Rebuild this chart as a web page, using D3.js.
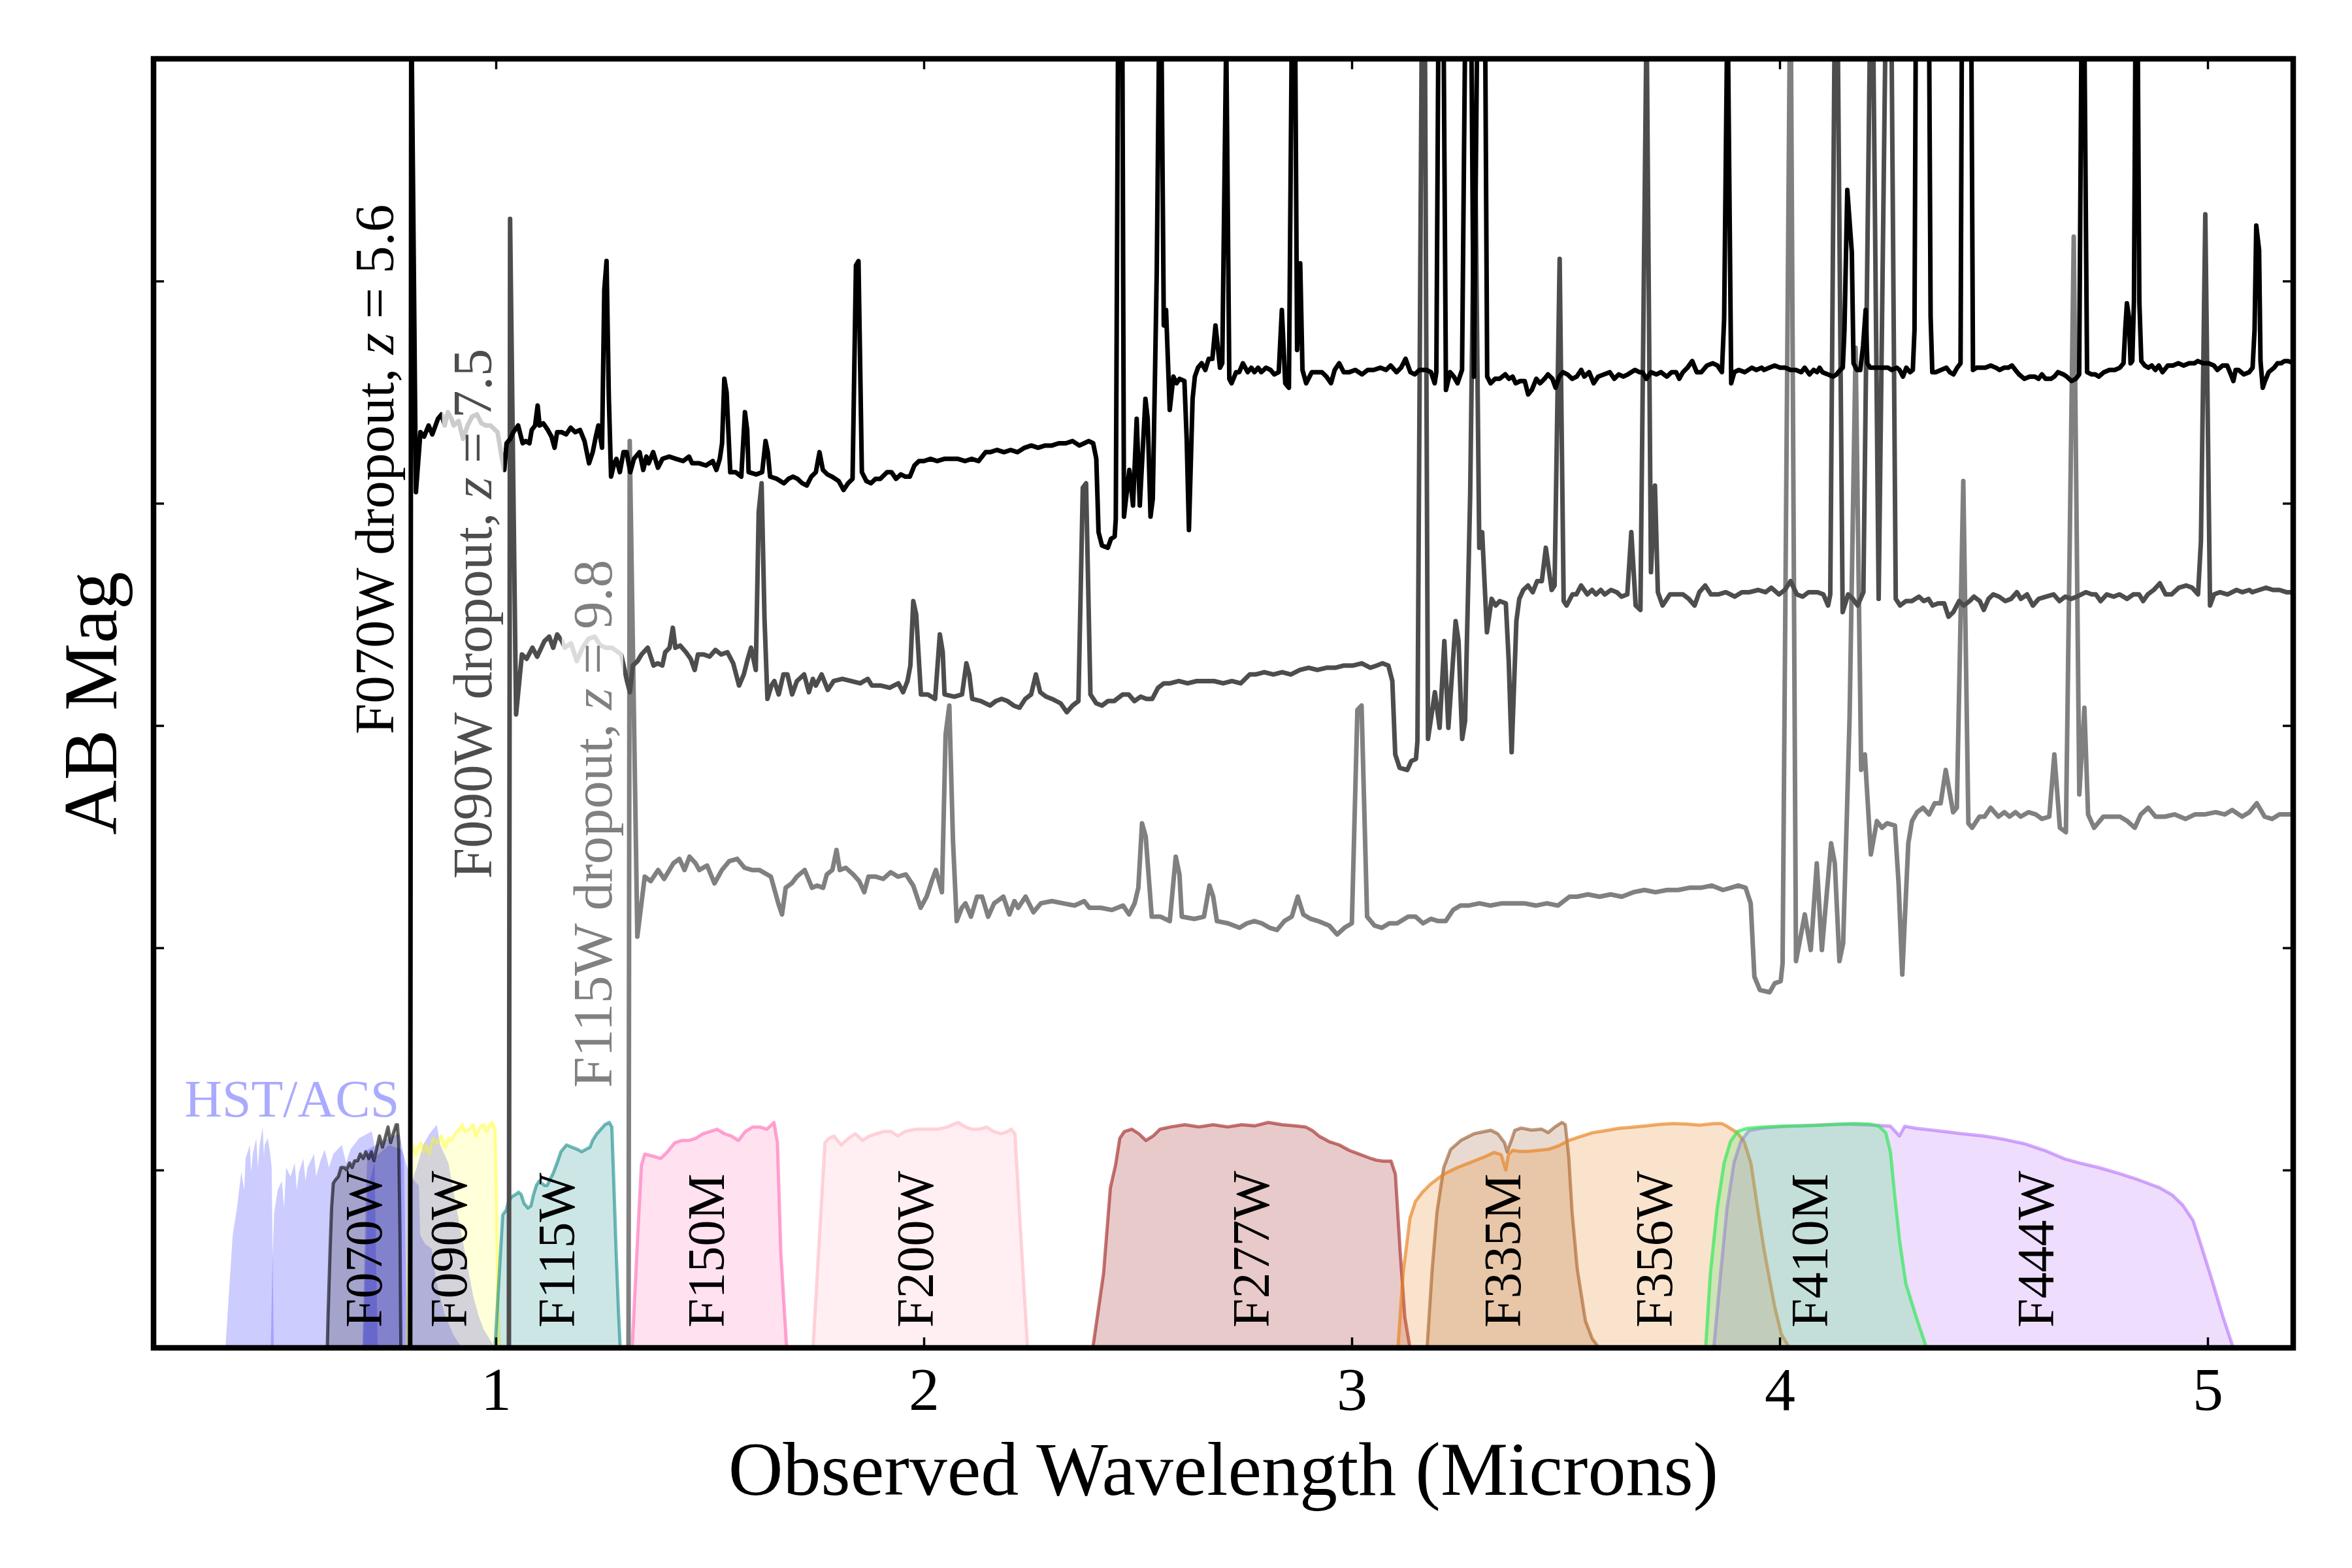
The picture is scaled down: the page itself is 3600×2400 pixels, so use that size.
<!DOCTYPE html>
<html>
<head>
<meta charset="utf-8">
<script src="https://cdn.jsdelivr.net/npm/d3@7/dist/d3.min.js"></script>
<style>
  body { margin: 0; background: #ffffff; }
  text { font-family: "Liberation Serif", "DejaVu Serif", serif; }
</style>
</head>
<body>
<svg id="drawing_region"></svg>
<script>
// axis ranges and ticks
const waveRange = [0.2, 5.2];          // microns
const magRange = [22, 27.8];           // AB mag, bright at top
const xTicks = [1, 2, 3, 4, 5];
const yTicks = [23, 24, 25, 26, 27];

// the three dropout galaxies
const redshifts = [5.6, 7.5, 9.8];
const magOffsets = [0.0, 1.0, 2.0];
const dropoutFilters = ['F070W', 'F090W', 'F115W'];
const spectrumColors = ['#000000', '#4d4d4d', '#808080'];
const dropoutLabelWave = [0.76, 0.99, 1.27];
const dropoutLabelMag = [25.04, 25.69, 26.63];

const template = [
  [900, 32.0], [1209, 32.0], [1215.5, 21.72], [1232, 23.95], [1248, 23.68], [1261, 23.70],
  [1277, 23.65], [1290, 23.69], [1310, 23.62], [1323, 23.60], [1334, 23.65], [1345, 23.59],
  [1358, 23.62], [1366, 23.65], [1383, 23.63], [1399, 23.71], [1415, 23.65], [1431, 23.61],
  [1448, 23.60], [1464, 23.64], [1480, 23.65], [1496, 23.65], [1521, 23.68], [1537, 23.80],
  [1545, 23.85], [1553, 23.73], [1566, 23.71], [1577, 23.68], [1594, 23.65], [1610, 23.73],
  [1621, 23.72], [1634, 23.73], [1642, 23.67], [1654, 23.65], [1663, 23.56], [1670, 23.65],
  [1683, 23.64], [1699, 23.67], [1712, 23.70], [1723, 23.75], [1732, 23.68], [1748, 23.68],
  [1764, 23.69], [1780, 23.66], [1796, 23.68], [1813, 23.67], [1829, 23.72], [1845, 23.82],
  [1858, 23.77], [1869, 23.70], [1878, 23.65], [1891, 23.75], [1899, 23.04], [1907, 22.91],
  [1915, 23.52], [1923, 23.88], [1934, 23.82], [1942, 23.80], [1954, 23.86], [1967, 23.77],
  [1978, 23.77], [1991, 23.86], [2004, 23.80], [2024, 23.77], [2037, 23.85], [2048, 23.79],
  [2056, 23.82], [2072, 23.77], [2089, 23.84], [2105, 23.80], [2129, 23.79], [2153, 23.80],
  [2178, 23.81], [2199, 23.79], [2210, 23.82], [2235, 23.82], [2259, 23.83], [2283, 23.81],
  [2296, 23.85], [2308, 23.80], [2316, 23.73], [2324, 23.44], [2332, 23.50], [2345, 23.86],
  [2364, 23.86], [2384, 23.88], [2397, 23.59], [2405, 23.67], [2410, 23.86], [2437, 23.87],
  [2458, 23.86], [2470, 23.72], [2478, 23.77], [2486, 23.88], [2510, 23.89], [2535, 23.91],
  [2551, 23.89], [2567, 23.88], [2583, 23.89], [2600, 23.91], [2616, 23.92], [2632, 23.88],
  [2648, 23.86], [2661, 23.77], [2673, 23.85], [2689, 23.87], [2705, 23.88], [2729, 23.90],
  [2746, 23.94], [2762, 23.91], [2778, 23.89], [2790, 22.93], [2799, 22.91], [2811, 23.86],
  [2827, 23.90], [2843, 23.91], [2859, 23.89], [2876, 23.89], [2900, 23.86], [2916, 23.86],
  [2932, 23.89], [2949, 23.87], [2965, 23.88], [2981, 23.88], [2997, 23.83], [3013, 23.81],
  [3030, 23.81], [3054, 23.80], [3078, 23.81], [3103, 23.80], [3127, 23.80], [3151, 23.80],
  [3176, 23.81], [3200, 23.80], [3224, 23.81], [3249, 23.77], [3265, 23.77], [3289, 23.76],
  [3314, 23.77], [3338, 23.76], [3362, 23.77], [3387, 23.75], [3411, 23.74], [3435, 23.75],
  [3460, 23.74], [3484, 23.74], [3508, 23.73], [3533, 23.73], [3557, 23.72], [3581, 23.74],
  [3598, 23.73], [3614, 23.72], [3630, 23.73], [3641, 23.80], [3649, 24.13], [3661, 24.19],
  [3682, 24.20], [3693, 24.16], [3706, 24.15], [3710, 24.07], [3727, 19.5], [3739, 24.06],
  [3758, 23.85], [3771, 24.01], [3784, 23.62], [3795, 24.01], [3815, 23.53], [3823, 23.62],
  [3833, 24.06], [3841, 23.98], [3849, 23.41], [3855, 22.96], [3868, 21.3], [3880, 23.20],
  [3888, 23.13], [3901, 23.58], [3914, 23.43], [3925, 23.46], [3936, 23.44], [3953, 23.45],
  [3961, 23.71], [3969, 24.12], [3982, 23.53], [3990, 23.43], [4001, 23.39], [4014, 23.37],
  [4027, 23.40], [4039, 23.35], [4052, 23.35], [4063, 23.20], [4079, 23.39], [4087, 23.37],
  [4101, 21.9], [4112, 23.44], [4120, 23.46], [4136, 23.41], [4147, 23.41], [4160, 23.37],
  [4177, 23.41], [4190, 23.39], [4201, 23.41], [4214, 23.39], [4225, 23.41], [4242, 23.39],
  [4258, 23.40], [4271, 23.42], [4287, 23.41], [4298, 23.13], [4310, 23.46], [4323, 23.48],
  [4340, 20.8], [4352, 23.31], [4363, 22.92], [4371, 23.40], [4384, 23.46], [4404, 23.41],
  [4420, 23.41], [4440, 23.41], [4456, 23.43], [4472, 23.46], [4485, 23.40], [4501, 23.37],
  [4517, 23.41], [4537, 23.41], [4558, 23.40], [4582, 23.42], [4602, 23.40], [4623, 23.40],
  [4647, 23.39], [4667, 23.40], [4683, 23.38], [4704, 23.41], [4720, 23.39], [4736, 23.35],
  [4753, 23.41], [4769, 23.42], [4785, 23.40], [4810, 23.40], [4826, 23.41], [4839, 23.46],
  [4845, 23.41], [4861, 20.0], [4879, 23.49], [4894, 23.41], [4907, 23.43], [4920, 23.46],
  [4936, 23.40], [4959, 20.2], [4978, 23.43], [5007, 19.5], [5025, 23.43], [5037, 23.46],
  [5053, 23.44], [5069, 23.44], [5089, 23.42], [5102, 23.44], [5115, 23.43], [5126, 23.46],
  [5142, 23.45], [5158, 23.45], [5170, 23.51], [5183, 23.49], [5199, 23.44], [5212, 23.46],
  [5228, 23.44], [5240, 23.42], [5256, 23.44], [5267, 23.48], [5280, 23.43], [5293, 23.41],
  [5309, 23.42], [5326, 23.44], [5342, 23.43], [5358, 23.40], [5369, 23.43], [5386, 23.41],
  [5402, 23.46], [5418, 23.43], [5439, 23.42], [5459, 23.41], [5475, 23.44], [5491, 23.42],
  [5507, 23.43], [5523, 23.42], [5548, 23.40], [5564, 23.41], [5575, 23.41], [5588, 23.44],
  [5605, 23.41], [5624, 23.42], [5640, 23.41], [5661, 23.43], [5678, 23.41], [5694, 23.41],
  [5705, 23.44], [5718, 23.41], [5734, 23.39], [5751, 23.36], [5767, 23.41], [5783, 23.41],
  [5803, 23.38], [5824, 23.37], [5840, 23.38], [5856, 23.41], [5864, 23.17], [5876, 21.7],
  [5889, 23.46], [5900, 23.41], [5916, 23.40], [5937, 23.41], [5962, 23.39], [5978, 23.40],
  [5997, 23.39], [6005, 23.40], [6024, 23.39], [6043, 23.38], [6062, 23.39], [6080, 23.39],
  [6099, 23.40], [6118, 23.40], [6137, 23.41], [6149, 23.39], [6166, 23.42], [6181, 23.40],
  [6193, 23.41], [6202, 23.39], [6212, 23.41], [6231, 23.42], [6250, 23.43], [6262, 23.42],
  [6275, 23.40], [6284, 23.39], [6290, 23.22], [6300, 22.59], [6316, 22.87], [6322, 23.37],
  [6334, 23.40], [6346, 23.40], [6356, 23.29], [6365, 23.13], [6371, 23.37], [6381, 23.39],
  [6406, 23.39], [6425, 23.39], [6444, 23.39], [6457, 23.40], [6475, 23.39], [6485, 23.40],
  [6497, 23.43], [6509, 23.39], [6522, 23.41], [6532, 23.40], [6538, 23.22], [6547, 20.5],
  [6556, 21.0], [6563, 19.3], [6572, 21.0], [6584, 20.5], [6595, 23.16], [6601, 23.41],
  [6613, 23.41], [6632, 23.40], [6651, 23.39], [6663, 23.41], [6676, 23.42], [6689, 23.39],
  [6701, 23.37], [6709, 20.8], [6722, 21.6], [6735, 20.8], [6745, 23.40], [6758, 23.39],
  [6776, 23.39], [6789, 23.39], [6808, 23.38], [6826, 23.39], [6839, 23.40], [6855, 23.39],
  [6870, 23.39], [6883, 23.38], [6895, 23.40], [6908, 23.42], [6927, 23.44], [6946, 23.43],
  [6964, 23.43], [6977, 23.44], [6989, 23.42], [7002, 23.44], [7021, 23.44], [7033, 23.43],
  [7046, 23.41], [7065, 23.42], [7077, 23.43], [7094, 23.45], [7109, 23.44], [7121, 23.42],
  [7134, 21.0], [7149, 23.41], [7165, 23.42], [7178, 23.42], [7190, 23.43], [7209, 23.41],
  [7228, 23.40], [7247, 23.40], [7265, 23.39], [7278, 23.37], [7284, 23.22], [7290, 23.10],
  [7297, 23.16], [7303, 23.37], [7309, 23.36], [7315, 23.09], [7324, 21.0], [7334, 23.09],
  [7341, 23.36], [7353, 23.38], [7366, 23.39], [7378, 23.38], [7391, 23.40], [7403, 23.38],
  [7416, 23.41], [7435, 23.38], [7453, 23.38], [7472, 23.37], [7491, 23.38], [7510, 23.37],
  [7529, 23.37], [7541, 23.36], [7560, 23.37], [7579, 23.37], [7598, 23.38], [7610, 23.40],
  [7629, 23.38], [7645, 23.38], [7658, 23.42], [7667, 23.45], [7675, 23.40], [7685, 23.40],
  [7704, 23.42], [7723, 23.41], [7735, 23.39], [7742, 23.22], [7748, 22.75], [7758, 22.86],
  [7763, 23.36], [7771, 23.48], [7779, 23.45], [7792, 23.41], [7811, 23.39], [7823, 23.37],
  [7836, 23.37], [7848, 23.36], [7861, 23.36], [7880, 23.37], [7900, 23.37]
];

// HST/ACS throughputs [micron, normalised T]
const acsA = [[0.368,0],[0.385,0.5],[0.395,0.62],[0.405,0.78],[0.412,0.7],[0.415,0.84],[0.425,0.9],[0.428,0.78],
  [0.432,0.86],[0.44,0.93],[0.444,0.8],[0.448,0.9],[0.455,0.98],[0.458,0.85],[0.46,0.9],[0.467,0.93],[0.472,0.87],
  [0.476,0.8],[0.479,0.3],[0.481,0]];
const acsB = [[0.474,0],[0.478,0.4],[0.482,0.6],[0.49,0.7],[0.50,0.74],[0.505,0.62],[0.51,0.8],[0.52,0.76],
  [0.53,0.82],[0.535,0.7],[0.54,0.78],[0.55,0.84],[0.555,0.74],[0.56,0.8],[0.575,0.86],[0.58,0.76],[0.59,0.83],
  [0.60,0.88],[0.61,0.8],[0.62,0.86],[0.64,0.9],[0.65,0.82],[0.66,0.88],[0.68,0.93],[0.70,0.95],[0.71,0.96],
  [0.716,0.9],[0.72,0.4],[0.724,0]];
const acsC = [[0.688,0],[0.695,0.6],[0.70,0.88],[0.72,0.9],[0.74,0.92],[0.76,0.94],[0.775,0.95],[0.785,0.85],
  [0.79,0.3],[0.795,0]];
const acsD = [[0.69,0],[0.70,0.7],[0.72,0.85],[0.75,0.9],[0.78,0.88],[0.80,0.76],[0.82,0.72],[0.823,0.5],
  [0.835,0.46],[0.85,0.44],[0.86,0.3],[0.88,0.15],[0.90,0.06],[0.92,0]];
const acsE = [[0.79,0],[0.795,0.55],[0.80,0.72],[0.815,0.8],[0.83,0.9],[0.845,0.95],[0.862,0.99],[0.87,0.9],
  [0.889,0.82],[0.908,0.62],[0.927,0.43],[0.947,0.23],[0.96,0.14],[0.972,0.08],[0.998,0]];

// JWST/NIRCam throughputs [micron, normalised T]
const f070w = [[0.606,0],[0.608,0.15],[0.6125,0.43],[0.616,0.62],[0.620,0.73],[0.625,0.745],[0.632,0.76],
  [0.638,0.80],[0.645,0.80],[0.651,0.79],[0.658,0.82],[0.664,0.80],[0.670,0.83],[0.677,0.83],[0.683,0.86],
  [0.690,0.84],[0.696,0.87],[0.703,0.84],[0.709,0.87],[0.715,0.83],[0.722,0.89],[0.728,0.94],[0.735,0.89],
  [0.741,0.93],[0.748,0.98],[0.754,0.91],[0.760,0.95],[0.767,0.99],[0.770,0.99],[0.773,0.91],[0.776,0.5],[0.778,0]];
const f090w = [[0.7925,0],[0.7957,0.43],[0.7989,0.84],[0.805,0.90],[0.812,0.86],[0.818,0.89],[0.825,0.91],
  [0.831,0.87],[0.8375,0.90],[0.844,0.86],[0.8535,0.93],[0.863,0.91],[0.873,0.94],[0.882,0.89],[0.889,0.93],
  [0.895,0.92],[0.902,0.94],[0.908,0.96],[0.915,0.97],[0.921,0.99],[0.927,0.96],[0.937,0.97],[0.947,0.99],
  [0.953,0.94],[0.963,0.98],[0.972,0.99],[0.979,0.96],[0.985,0.99],[0.992,1.0],[0.998,0.97],[1.001,0.72],
  [1.0045,0.23],[1.008,0]];
const f115w = [[0.998,0],[1.011,0.43],[1.016,0.59],[1.024,0.61],[1.030,0.65],[1.037,0.67],[1.046,0.68],
  [1.053,0.69],[1.059,0.68],[1.066,0.64],[1.075,0.62],[1.082,0.63],[1.088,0.68],[1.0945,0.72],[1.101,0.74],
  [1.107,0.73],[1.114,0.72],[1.120,0.72],[1.127,0.75],[1.133,0.77],[1.143,0.82],[1.152,0.87],[1.165,0.90],
  [1.178,0.89],[1.191,0.88],[1.2005,0.87],[1.210,0.88],[1.220,0.89],[1.226,0.92],[1.236,0.95],[1.2455,0.97],
  [1.255,0.99],[1.265,1.0],[1.271,0.98],[1.274,0.82],[1.281,0.43],[1.287,0.14],[1.2905,0]];
const f150m = [[1.3185,0],[1.332,0.52],[1.340,0.81],[1.348,0.86],[1.368,0.85],[1.385,0.84],[1.401,0.87],
  [1.418,0.91],[1.434,0.92],[1.451,0.92],[1.4675,0.93],[1.484,0.95],[1.5006,0.96],[1.517,0.97],[1.534,0.95],
  [1.550,0.94],[1.567,0.92],[1.583,0.96],[1.600,0.98],[1.617,0.98],[1.633,0.97],[1.650,1.0],[1.658,0.91],
  [1.666,0.42],[1.6795,0]];
const f200w = [[1.741,0],[1.757,0.52],[1.769,0.91],[1.779,0.93],[1.790,0.94],[1.807,0.90],[1.824,0.93],
  [1.840,0.95],[1.857,0.92],[1.873,0.94],[1.890,0.95],[1.906,0.96],[1.923,0.96],[1.9395,0.94],[1.956,0.96],
  [1.981,0.97],[2.006,0.97],[2.031,0.97],[2.055,0.98],[2.080,1.0],[2.097,0.98],[2.113,0.97],[2.130,0.97],
  [2.1465,0.98],[2.163,0.96],[2.180,0.95],[2.196,0.96],[2.204,0.97],[2.213,0.95],[2.226,0.52],[2.2425,0]];
const f277w = [[2.395,0],[2.420,0.33],[2.436,0.71],[2.448,0.81],[2.458,0.93],[2.469,0.96],[2.486,0.97],
  [2.5025,0.95],[2.519,0.92],[2.536,0.94],[2.552,0.97],[2.577,0.98],[2.610,0.99],[2.643,0.98],[2.676,0.99],
  [2.710,0.98],[2.743,0.99],[2.774,0.985],[2.805,1.0],[2.837,0.99],[2.868,0.985],[2.892,0.98],[2.908,0.964],
  [2.923,0.94],[2.947,0.915],[2.971,0.90],[2.994,0.876],[3.018,0.859],[3.042,0.842],[3.057,0.833],
  [3.073,0.828],[3.092,0.828],[3.102,0.77],[3.113,0.43],[3.124,0.137],[3.136,0]];
const f335m = [[3.176,0],[3.188,0.35],[3.199,0.60],[3.215,0.80],[3.231,0.88],[3.255,0.92],[3.286,0.95],
  [3.325,0.965],[3.341,0.95],[3.357,0.91],[3.363,0.87],[3.373,0.92],[3.381,0.965],[3.396,0.975],[3.420,0.966],
  [3.444,0.97],[3.459,0.955],[3.475,0.98],[3.491,1.0],[3.499,0.99],[3.507,0.85],[3.515,0.6],[3.527,0.35],
  [3.546,0.12],[3.562,0.04],[3.578,0]];
const f356w = [[3.108,0],[3.120,0.33],[3.136,0.575],[3.149,0.65],[3.165,0.69],[3.184,0.726],[3.215,0.77],
  [3.247,0.80],[3.278,0.823],[3.310,0.847],[3.333,0.867],[3.349,0.857],[3.360,0.789],[3.366,0.857],
  [3.376,0.876],[3.392,0.872],[3.412,0.872],[3.436,0.876],[3.460,0.881],[3.483,0.896],[3.507,0.92],
  [3.531,0.935],[3.562,0.954],[3.594,0.964],[3.625,0.974],[3.657,0.979],[3.688,0.985],[3.720,0.991],
  [3.751,0.995],[3.783,0.993],[3.814,0.988],[3.846,0.995],[3.865,0.995],[3.877,0.983],[3.901,0.954],
  [3.917,0.915],[3.933,0.818],[3.948,0.624],[3.964,0.43],[3.988,0.186],[4.004,0.06],[4.023,0]];
const f410m = [[3.827,0],[3.838,0.33],[3.854,0.62],[3.870,0.82],[3.885,0.915],[3.901,0.96],[3.925,0.974],
  [3.956,0.979],[4.004,0.983],[4.051,0.985],[4.098,0.988],[4.146,0.993],[4.177,0.995],[4.209,0.993],
  [4.232,0.983],[4.248,0.954],[4.259,0.867],[4.269,0.672],[4.280,0.478],[4.295,0.283],[4.319,0.137],[4.343,0]];
const f444w = [[3.846,0],[3.862,0.33],[3.877,0.62],[3.893,0.82],[3.909,0.915],[3.928,0.964],[3.956,0.974],
  [4.004,0.982],[4.082,0.988],[4.161,0.993],[4.224,0.988],[4.259,0.983],[4.280,0.94],[4.292,0.983],
  [4.319,0.974],[4.366,0.964],[4.429,0.949],[4.477,0.94],[4.524,0.925],[4.571,0.906],[4.619,0.876],
  [4.666,0.838],[4.705,0.818],[4.745,0.80],[4.792,0.774],[4.839,0.745],[4.887,0.711],[4.918,0.677],
  [4.942,0.633],[4.966,0.565],[4.989,0.43],[5.013,0.283],[5.036,0.137],[5.060,0]];

const acsCurves = [acsA, acsB, acsC, acsD, acsE];
// listed in drawing order: F410M goes over F444W
const filterNames = ['F070W', 'F090W', 'F115W', 'F150M', 'F200W', 'F277W', 'F335M', 'F356W', 'F444W', 'F410M'];
const filterCurves = [f070w, f090w, f115w, f150m, f200w, f277w, f335m, f356w, f444w, f410m];
const filterColors = ['#000000', '#ffff00', '#008080', '#ff69b4', '#ffc0cb', '#a52a2a', '#8b4513', '#e8801a', '#a855f7', '#33e85a'];
const filterFillAlpha = [0.2, 0.15, 0.2, 0.2, 0.25, 0.25, 0.2, 0.22, 0.2, 0.22];
const filterLineAlpha = [0.6, 0.4, 0.55, 0.6, 0.7, 0.65, 0.55, 0.65, 0.5, 0.7];
const filterLabelWave = [0.692, 0.89, 1.142, 1.492, 1.98, 2.765, 3.352, 3.707, 4.598, 4.07];

class DropoutPlot {

    constructor( config ) {
        this.config = config;
        this.init();
    }

    init() {
        let self = this;

        self.svg = d3.select( self.config.parent )
            .attr('width', self.config.width)
            .attr('height', self.config.height);

        self.chart = self.svg.append('g')
            .attr('transform', `translate(${self.config.margin.left}, ${self.config.margin.top})`);

        self.inner_width = self.config.width - self.config.margin.left - self.config.margin.right;
        self.inner_height = self.config.height - self.config.margin.top - self.config.margin.bottom;

        self.xscale = d3.scaleLinear().domain( waveRange ).range( [0, self.inner_width] );
        self.yscale = d3.scaleLinear().domain( magRange ).range( [0, self.inner_height] );
        // throughput curves sit on the bottom of the frame
        self.tscale = d3.scaleLinear().domain( [0, 1] )
            .range( [self.inner_height, self.inner_height - self.config.filter_height] );

        self.svg.append('defs').append('clipPath').attr('id', 'plot_clip')
            .append('rect')
            .attr('width', self.inner_width)
            .attr('height', self.inner_height);

        self.plot_area = self.chart.append('g').attr('clip-path', 'url(#plot_clip)');
    }

    render() {
        let self = this;

        const area = d3.area()
            .x( d => self.xscale(d[0]) )
            .y0( self.tscale(0) )
            .y1( d => self.tscale(d[1]) );
        const line = d3.line()
            .x( d => self.xscale(d[0]) )
            .y( d => self.tscale(d[1]) );

        // HST/ACS filters
        self.plot_area.append('g').selectAll('path')
            .data( acsCurves )
            .join('path')
            .attr('d', area)
            .attr('fill', '#0000ff')
            .attr('fill-opacity', 0.2);

        self.chart.append('text')
            .attr('x', self.xscale(0.272))
            .attr('y', self.tscale(1.026))
            .attr('font-size', '80px')
            .attr('fill', '#aaaaff')
            .text('HST/ACS');

        // NIRCam filters
        const filters = self.plot_area.append('g').selectAll('g')
            .data( filterCurves )
            .join('g');
        filters.append('path')
            .attr('d', area)
            .attr('fill', (d, i) => filterColors[i])
            .attr('fill-opacity', (d, i) => filterFillAlpha[i]);
        filters.append('path')
            .attr('d', line)
            .attr('fill', 'none')
            .attr('stroke', (d, i) => filterColors[i])
            .attr('stroke-opacity', (d, i) => filterLineAlpha[i])
            .attr('stroke-width', 5)
            .attr('stroke-linejoin', 'round');

        filterNames.forEach( (name, i) => {
            self.chart.append('text')
                .attr('transform', `translate(${self.xscale(filterLabelWave[i])}, ${self.tscale(0.09)}) rotate(-90)`)
                .attr('dy', '0.34em')
                .attr('font-size', '80px')
                .attr('fill', '#000')
                .text(name);
        });

        // spectra, shifted from the rest-frame template
        const specLine = d3.line()
            .x( d => self.xscale(d[0]) )
            .y( d => self.yscale(d[1]) );

        for (let i = redshifts.length - 1; i >= 0; i--) {
            const obs = template.map( d => [d[0] * (1 + redshifts[i]) / 1e4, d[1] + magOffsets[i]] );
            self.plot_area.append('path')
                .datum( obs )
                .attr('d', specLine)
                .attr('fill', 'none')
                .attr('stroke', spectrumColors[i])
                .attr('stroke-width', 7)
                .attr('stroke-linejoin', 'round');
        }

        // dropout labels with a faint white box
        redshifts.forEach( (z, i) => {
            const g = self.chart.append('g')
                .attr('transform', `translate(${self.xscale(dropoutLabelWave[i])}, ${self.yscale(dropoutLabelMag[i])}) rotate(-90)`);
            const box = g.append('rect');
            const t = g.append('text')
                .attr('font-size', '85px')
                .attr('fill', spectrumColors[i]);
            t.append('tspan').text(`${dropoutFilters[i]} dropout, `);
            t.append('tspan').attr('font-style', 'italic').text('z');
            t.append('tspan').text(` = ${z}`);
            const bb = t.node().getBBox();
            box.attr('x', bb.x - 3).attr('y', bb.y)
                .attr('width', bb.width + 6).attr('height', bb.height)
                .attr('fill', '#ffffff').attr('opacity', 0.8);
        });

        // axes, ticks pointing inwards on all four sides
        const tickLen = -16;
        const xaxis_bottom = self.chart.append('g')
            .attr('transform', `translate(0, ${self.inner_height})`)
            .call( d3.axisBottom(self.xscale).tickValues(xTicks).tickSizeInner(tickLen)
                .tickSizeOuter(0).tickPadding(28).tickFormat(d3.format('d')) );
        const xaxis_top = self.chart.append('g')
            .call( d3.axisTop(self.xscale).tickValues(xTicks).tickSizeInner(tickLen)
                .tickSizeOuter(0).tickFormat('') );
        const yaxis_left = self.chart.append('g')
            .call( d3.axisLeft(self.yscale).tickValues(yTicks).tickSizeInner(tickLen)
                .tickSizeOuter(0).tickFormat('') );
        const yaxis_right = self.chart.append('g')
            .attr('transform', `translate(${self.inner_width}, 0)`)
            .call( d3.axisRight(self.yscale).tickValues(yTicks).tickSizeInner(tickLen)
                .tickSizeOuter(0).tickFormat('') );

        [xaxis_bottom, xaxis_top, yaxis_left, yaxis_right].forEach( ax => {
            ax.select('.domain').remove();
            ax.selectAll('line').attr('stroke', '#000').attr('stroke-width', 3.5);
        });
        xaxis_bottom.selectAll('text')
            .attr('font-family', '"Liberation Serif", serif')
            .attr('font-size', '94px')
            .attr('fill', '#000');

        self.chart.append('rect')
            .attr('width', self.inner_width)
            .attr('height', self.inner_height)
            .attr('fill', 'none')
            .attr('stroke', '#000')
            .attr('stroke-width', 8.5);

        self.chart.append('text')
            .attr('x', self.inner_width / 2)
            .attr('y', self.inner_height + 225)
            .attr('text-anchor', 'middle')
            .attr('font-size', '116px')
            .text('Observed Wavelength (Microns)');

        self.chart.append('text')
            .attr('transform', `translate(-57, ${self.inner_height / 2}) rotate(-90)`)
            .attr('text-anchor', 'middle')
            .attr('font-size', '116px')
            .text('AB Mag');
    }
}

const config = {
    parent: '#drawing_region',
    width: 3600,
    height: 2400,
    margin: {top: 90, right: 90, bottom: 337, left: 235},
    filter_height: 345
};

const plot = new DropoutPlot( config );
plot.render();
</script>
</body>
</html>
